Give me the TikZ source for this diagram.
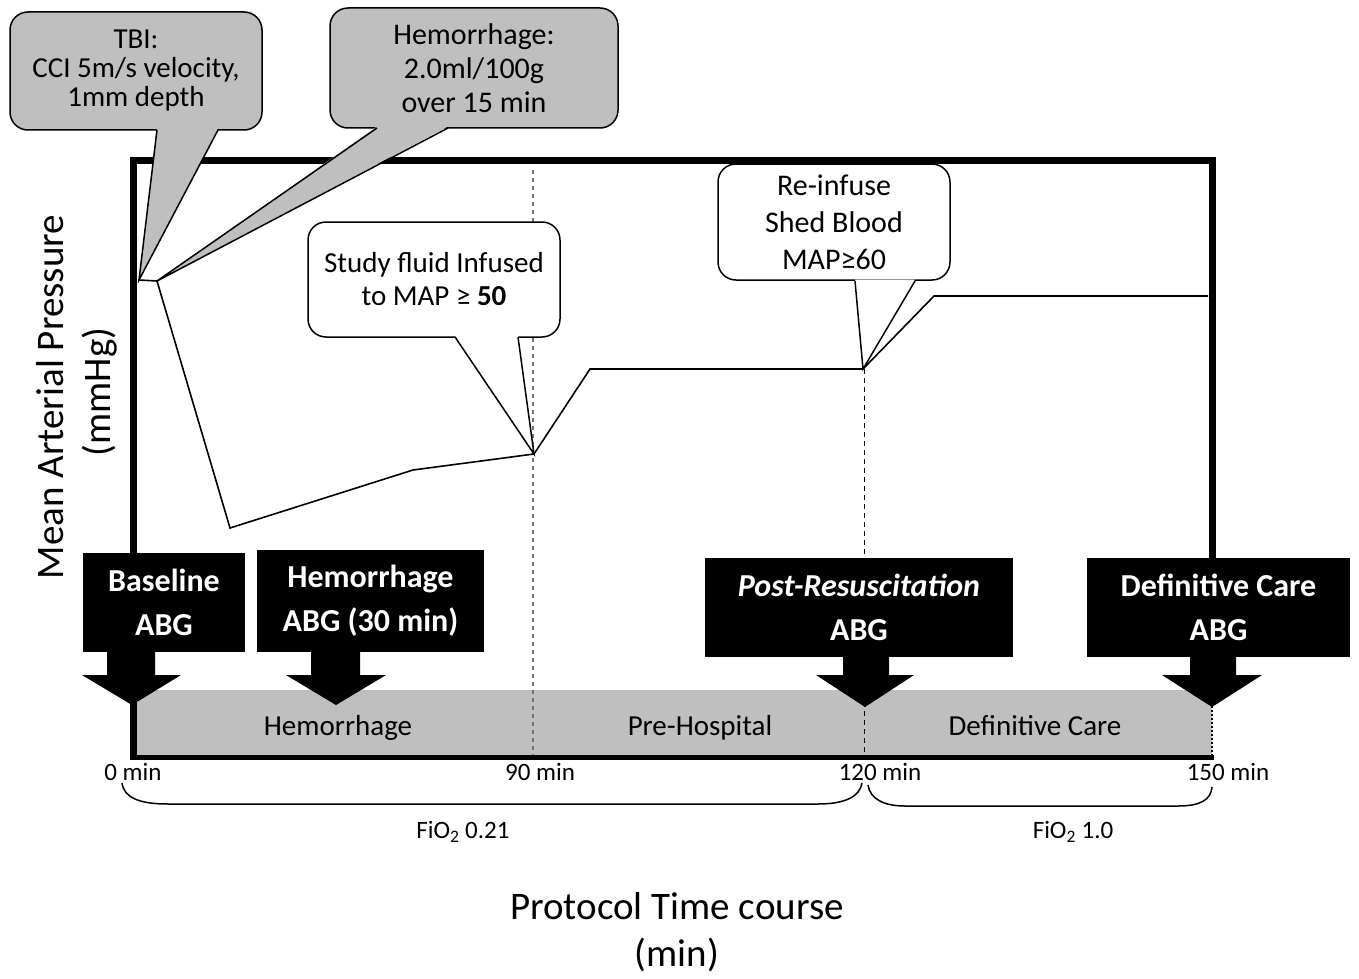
\documentclass[tikz,border=0pt]{standalone}
\usepackage{fontspec}
\setmainfont{Carlito}
\definecolor{bgray}{HTML}{BFBFBF}
\begin{document}
\begin{tikzpicture}[x=1pt,y=-1pt,line join=miter,
  bubble/.style={draw=black,line width=1.5pt,rounded corners=18pt,align=center,inner sep=0pt},
  bubtext/.style={font=\fontsize{29}{#1}\selectfont},
  abg/.style={fill=black,text=white,align=center,inner sep=0pt,font=\fontsize{32}{44}\selectfont\bfseries},
  tail/.style={line width=1.5pt},
  band/.style={font=\fontsize{29}{30}\selectfont,anchor=base},
  tick/.style={font=\fontsize{25}{26}\selectfont},
  brace/.style={line width=1.5pt},
  big/.style={font=\fontsize{39}{50}\selectfont}]
\useasboundingbox (0,0) rectangle (1359,979);

% gray band
\fill[bgray] (133,690) rectangle (1212,757);
% vertical guide lines
\draw[black!55,line width=2.2pt,dash pattern=on 4pt off 4pt] (533,170) -- (533,757);
\draw[black,line width=1pt,dash pattern=on 5pt off 4pt] (864,369) -- (864,757);
\draw[black,line width=1.2pt,dash pattern=on 2pt off 2pt] (1212,690) -- (1212,757);
% frame
\draw[line width=7pt] (133,757) -- (133,160) -- (1212,160) -- (1212,690);
\draw[line width=5pt] (130,757) -- (1214,757);

% MAP curve
\coordinate (m0) at (139,280);
\coordinate (m1) at (157,281);
\coordinate (m2) at (230,528);
\coordinate (m3) at (413,470);
\coordinate (m4) at (534,454);
\coordinate (m5) at (590,369);
\coordinate (m6) at (863,369);
\coordinate (m7) at (934,296);
\coordinate (m8) at (1208,296);
\draw[line width=1.6pt] (m0) -- (m1) -- (m2) -- (m3) -- (m4) -- (m5) -- (m6) -- (m7) -- (m8);

% TBI bubble
\node[bubble,fill=bgray,minimum width=252,minimum height=118,bubtext=29] (tbi) at (136,71) {TBI:\\CCI 5m/s velocity,\\1mm depth};
\fill[bgray] (157,128.5) -- (m0) -- (218,128.5) -- cycle;
\draw[tail] (157,130) -- (m0) -- (218,130);

% Hemorrhage bubble
\node[bubble,fill=bgray,minimum width=288,minimum height=120,bubtext=34,font=\fontsize{30}{34}\selectfont] (hem) at (474,68) {Hemorrhage:\\2.0ml/100g\\over 15 min};
\fill[bgray] (377,126.5) -- (m1) -- (448,126.5) -- cycle;
\draw[tail] (377,128) -- (m1) -- (448,128);

% Study fluid bubble
\node[bubble,fill=white,minimum width=252,minimum height=115,bubtext=33] (study) at (434,279.5) {Study fluid Infused\\to MAP ≥ \textbf{50}};
\fill[white] (455,335.5) -- (m4) -- (518,335.5) -- cycle;
\draw[tail] (455,337) -- (m4) -- (518,337);

% Re-infuse bubble
\node[bubble,fill=white,minimum width=232,minimum height=116,font=\fontsize{30}{37}\selectfont] (reinf) at (834,222) {Re-infuse\\Shed Blood\\MAP≥60};
\fill[white] (855,279.5) -- (m6) -- (915,279.5) -- cycle;
\draw[tail] (855,281) -- (m6) -- (915,281);

% ABG boxes and arrows
\node[abg,minimum width=162,minimum height=99] (b1) at (164,602.5) {Baseline\\ABG};
\fill (107,650) -- (107,675) -- (82,675) -- (132,705) -- (181,675) -- (155,675) -- (155,650) -- cycle;
\node[abg,minimum width=227,minimum height=102] (b2) at (370.5,601) {Hemorrhage\\ABG (30 min)};
\fill (311,650) -- (311,675) -- (286,675) -- (336,705) -- (386,675) -- (360,675) -- (360,650) -- cycle;
\node[abg,minimum width=308,minimum height=99] (b3) at (859,607.5) {\textit{Post-Resuscitation}\\ABG};
\fill (843,655) -- (843,675) -- (816,675) -- (865,707) -- (914,675) -- (889,675) -- (889,655) -- cycle;
\node[abg,minimum width=263,minimum height=99] (b4) at (1218.5,607.5) {Definitive Care\\ABG};
\fill (1190,655) -- (1190,675) -- (1162,675) -- (1212,707) -- (1262,675) -- (1236,675) -- (1236,655) -- cycle;

% band labels
\node[band] (l1) at (338,735) {Hemorrhage};
\node[band] (l2) at (700,735) {Pre-Hospital};
\node[band] (l3) at (1035,735) {Definitive Care};

% tick labels
\node[tick] (t0) at (133,772) {0 min};
\node[tick] (t90) at (540,772) {90 min};
\node[tick] (t120) at (880,772) {120 min};
\node[tick] (t150) at (1228,772) {150 min};

% braces
\draw[brace] (122,783) .. controls (124,798) and (140,804) .. (168,804) -- (818,804) .. controls (846,804) and (860,796) .. (862,783);
\draw[brace] (868,785) .. controls (870,799) and (884,806) .. (905,806) -- (1178,806) .. controls (1200,806) and (1211,800) .. (1212,787);
\node[tick] (f1) at (463,832) {FiO\textsubscript{2} 0.21};
\node[tick] (f2) at (1073,832) {FiO\textsubscript{2} 1.0};

% axis labels
\node[big,rotate=90] (ylab) at (50,397) {Mean Arterial Pressure};
\node[big,rotate=90] (yunit) at (100,392) {(mmHg)};
\node[big] (xlab) at (677,906) {Protocol Time course};
\node[big] (xunit) at (677,955) {(min)};
\end{tikzpicture}
\end{document}
